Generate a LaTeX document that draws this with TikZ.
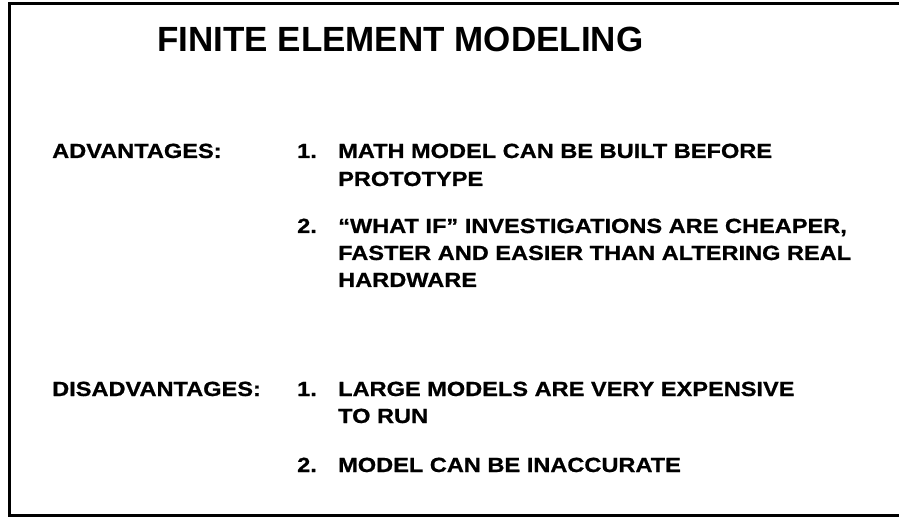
\documentclass[tikz,border=0pt]{standalone}
\usepackage{fontspec}
\setmainfont{Liberation Sans}
\newfontfamily\slidefont[FakeStretch=1.15,FakeBold=0.8]{Liberation Sans}
\tikzset{
    slidetitle/.style={anchor=base west, inner sep=0pt, font=\fontsize{35}{40}\selectfont\bfseries},
    slidetext/.style={anchor=base west, inner sep=0pt, font=\fontsize{20.5}{27}\selectfont\slidefont\bfseries}
}
\begin{document}
\begin{tikzpicture}[x=1pt,y=-1pt]
            \useasboundingbox (0, 0) rectangle (899, 518);
            %frame
            \draw [line width=3pt] (899, 3.5) -- (9, 3.5) -- (9, 515.5) -- (899, 515.5);
            %
            %title
            \node [slidetitle] (title) at (157, 52) {FINITE ELEMENT MODELING};
            %
            %advantages
            \node [slidetext] (adv) at (52, 158) {ADVANTAGES:};
            \node [slidetext] (advnum1) at (297, 158) {1.};
            \node [slidetext] (adv1a) at (338, 158) {MATH MODEL CAN BE BUILT BEFORE};
            \node [slidetext] (adv1b) at (338, 186) {PROTOTYPE};
            \node [slidetext] (advnum2) at (297, 233) {2.};
            \node [slidetext] (adv2a) at (338, 233) {“WHAT IF” INVESTIGATIONS ARE CHEAPER,};
            \node [slidetext] (adv2b) at (338, 260) {FASTER AND EASIER THAN ALTERING REAL};
            \node [slidetext] (adv2c) at (338, 287) {HARDWARE};
            %
            %disadvantages
            \node [slidetext] (dis) at (52, 396) {DISADVANTAGES:};
            \node [slidetext] (disnum1) at (297, 396) {1.};
            \node [slidetext] (dis1a) at (338, 396) {LARGE MODELS ARE VERY EXPENSIVE};
            \node [slidetext] (dis1b) at (338, 423) {TO RUN};
            \node [slidetext] (disnum2) at (297, 472) {2.};
            \node [slidetext] (dis2a) at (338, 472) {MODEL CAN BE INACCURATE};
            %
\end{tikzpicture}
\end{document}
